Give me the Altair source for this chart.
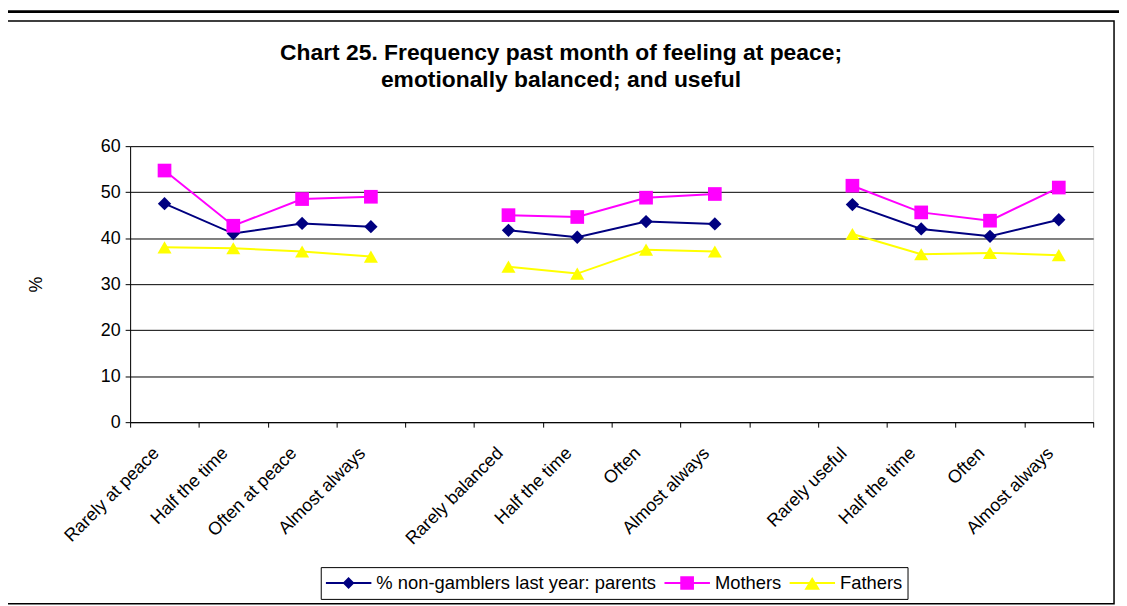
import altair as alt
import pandas as pd

# ---- data ----
categories = ["Rarely at peace", "Half the time", "Often at peace", "Almost always", "",
              "Rarely balanced", "Half the time", "Often", "Almost always", "",
              "Rarely useful", "Half the time", "Often", "Almost always"]
groups = [1, 1, 1, 1, 0, 2, 2, 2, 2, 0, 3, 3, 3, 3]
series_names = ["% non-gamblers last year: parents", "Mothers", "Fathers"]
parents = [47.5, 41.0, 43.2, 42.5, None, 41.7, 40.2, 43.6, 43.1, None, 47.3, 42.0, 40.4, 44.0]
mothers = [54.7, 42.7, 48.5, 49.0, None, 45.0, 44.6, 48.8, 49.6, None, 51.4, 45.6, 43.8, 51.0]
fathers = [38.0, 37.8, 37.1, 36.0, None, 33.8, 32.3, 37.5, 37.1, None, 40.9, 36.5, 36.8, 36.3]
colors = ["#000080", "#FF00FF", "#FFFF00"]
shapes = ["diamond", "square", "triangle-up"]
marker_sizes = [180, 200, 230]
# legend symbols: a short line (thin filled bar) with the series marker on it
BAR = "M-1,-0.045L1,-0.045L1,0.045L-1,0.045Z"
legend_shapes = [
    BAR + "M0,-0.26L0.26,0L0,0.26L-0.26,0Z",
    BAR + "M-0.3,-0.3L0.3,-0.3L0.3,0.3L-0.3,0.3Z",
    BAR + "M0,-0.26L0.34,0.3L-0.34,0.3Z",
]
y_ticks = [0, 10, 20, 30, 40, 50, 60]

keys = [f"{i + 1:02d}" for i in range(len(categories))]
rows = []
for name, vals in zip(series_names, [parents, mothers, fathers]):
    for k, g, v in zip(keys, groups, vals):
        if v is not None:
            rows.append({"key": k, "grp": f"{name}-{g}", "series": name, "value": v})
df = pd.DataFrame(rows)

label_expr = "[" + ",".join("'" + c + "'" for c in categories) + "][toNumber(datum.value) - 1]"

FONT = "Liberation Sans"

x_enc = alt.X("key:N",
              scale=alt.Scale(type="band", domain=keys, paddingInner=0, paddingOuter=0),
              axis=alt.Axis(title=None, labelExpr=label_expr, labelAngle=315,
                            labelAlign="right", labelBaseline="top", labelFontSize=18,
                            labelPadding=17, labelOffset=-15, tickBand="extent", tickSize=5,
                            tickColor="black", domainColor="black", labelColor="black",
                            labelFont=FONT, grid=False, labelOverlap=False, labelLimit=300))
y_enc = alt.Y("value:Q",
              scale=alt.Scale(domain=[0, 60], nice=False),
              axis=alt.Axis(title="%", values=y_ticks, labelFontSize=18, labelFont=FONT,
                            labelColor="black", tickColor="black", tickSize=5,
                            domainColor="black", gridColor="black", grid=True,
                            titleFont=FONT, titleFontSize=18, titleFontWeight="normal",
                            titleColor="black",
                            titleX=-94, titleY=139, titleAngle=270,
                            titleBaseline="middle", titleAlign="center", labelPadding=5))


def col(legend=None):
    return alt.Color("series:N", scale=alt.Scale(domain=series_names, range=colors),
                     legend=legend)


frame = alt.Chart(alt.Data(values=[{"a": 1}])).mark_rect(
    fill=None, stroke="black", strokeWidth=1.5).encode(
    x=alt.value(-127), x2=alt.value(991), y=alt.value(-126), y2=alt.value(461))

topbar = alt.Chart(alt.Data(values=[{"a": 1}])).mark_rect(
    fill="black").encode(
    x=alt.value(-131), x2=alt.value(1000), y=alt.value(-137), y2=alt.value(-134))

lines = alt.Chart(df).mark_line(strokeWidth=2).encode(
    x=x_enc, y=y_enc, color=col(), detail="grp:N")

points = alt.Chart(df).mark_point(filled=True, opacity=1).encode(
    x=x_enc, y=y_enc, color=col(),
    shape=alt.Shape("series:N", scale=alt.Scale(domain=series_names, range=shapes),
                    legend=None),
    size=alt.Size("series:N", scale=alt.Scale(domain=series_names, range=marker_sizes),
                  legend=None))

leg = alt.Legend(title=None, orient="none", direction="horizontal",
                 legendX=192, legendY=424, labelFontSize=18.5, labelFont=FONT,
                 labelColor="black", labelLimit=500, labelOffset=5,
                 strokeColor="black", fillColor="white", padding=5,
                 columnPadding=8, symbolSize=2116, clipHeight=22,
                 symbolStrokeWidth=0, symbolOpacity=1)

legend_layer = alt.Chart(df).transform_filter("false").mark_point(
    filled=True, opacity=1, size=2116).encode(
    x=x_enc, y=y_enc,
    color=col(leg),
    shape=alt.Shape("series:N", scale=alt.Scale(domain=series_names, range=legend_shapes),
                    legend=leg))

chart = alt.layer(frame, topbar, lines, points, legend_layer).resolve_scale(
    color="independent", shape="independent", size="independent"
).properties(
    width=970, height=278,
    autosize=alt.AutoSizeParams(type="none"),
    padding={"left": 123, "top": 137, "right": 26, "bottom": 183},
    title=alt.Title(["Chart 25. Frequency past month of feeling at peace;",
                     "emotionally balanced; and useful"],
                    fontSize=23, fontWeight="bold", font=FONT, lineHeight=27,
                    anchor="middle", dx=-51, offset=-105, baseline="bottom",
                    color="black"),
).configure_view(fill="#C0C0C0", stroke="#808080", strokeWidth=2
).configure(background="white")

chart.save("out.html", embed_options={"renderer": "svg", "actions": False})
